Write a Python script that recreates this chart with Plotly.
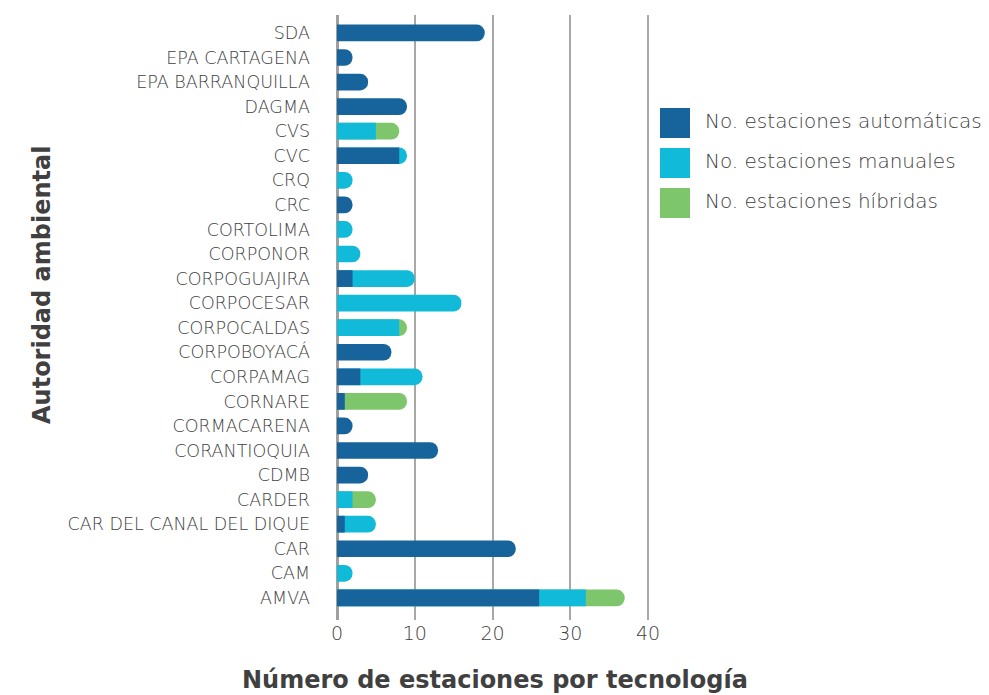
import plotly.graph_objects as go

# Categories listed bottom-to-top (Plotly draws the first category at the bottom)
autoridades = [
    "AMVA", "CAM", "CAR", "CAR DEL CANAL DEL DIQUE", "CARDER", "CDMB",
    "CORANTIOQUIA", "CORMACARENA", "CORNARE", "CORPAMAG", "CORPOBOYACÁ",
    "CORPOCALDAS", "CORPOCESAR", "CORPOGUAJIRA", "CORPONOR", "CORTOLIMA",
    "CRC", "CRQ", "CVC", "CVS", "DAGMA", "EPA BARRANQUILLA", "EPA CARTAGENA", "SDA",
]
automaticas = [26, 0, 23, 1, 0, 4, 13, 2, 1, 3, 7, 0, 0, 2, 0, 0, 2, 0, 8, 0, 9, 4, 2, 19]
manuales    = [6, 2, 0, 4, 2, 0, 0, 0, 0, 8, 0, 8, 16, 8, 3, 2, 0, 2, 1, 5, 0, 0, 0, 0]
hibridas    = [5, 0, 0, 0, 3, 0, 0, 0, 8, 0, 0, 1, 0, 0, 0, 0, 0, 0, 0, 3, 0, 0, 0, 0]

series_names = ["No. estaciones automáticas", "No. estaciones manuales", "No. estaciones híbridas"]
colors = ["#17639b", "#12bad9", "#7ec66c"]

FONT = "DejaVu Sans"
TEXT = "#404040"

# the page body adds an 8px margin, so the figure is 8px smaller each way
# plot area (page px): left 337, right 989, top 15, bottom 620
PW, PH = 652, 605
XMAX = 40.4  # a little past 40 so the last gridline is kept

# each segment is drawn as an overlaid bar from 0 to its cumulative end,
# so every segment gets its own rounded tip
cum_auto = [a if a > 0 else None for a in automaticas]
cum_man = [a + m if m > 0 else None for a, m in zip(automaticas, manuales)]
cum_hib = [a + m + h if h > 0 else None for a, m, h in zip(automaticas, manuales, hibridas)]

fig = go.Figure()

for vals, col, name in [(cum_hib, colors[2], series_names[2]),
                        (cum_man, colors[1], series_names[1]),
                        (cum_auto, colors[0], series_names[0])]:
    fig.add_trace(go.Bar(
        y=autoridades, x=vals, orientation="h", name=name,
        marker=dict(color=col, cornerradius="50%", line=dict(width=0)),
        showlegend=False,
    ))

# legend drawn as its own small panel so the swatches can be large squares
fig.add_trace(go.Scatter(
    x=[0, 0, 0], y=[0, 1, 2], xaxis="x2", yaxis="y2", mode="markers",
    marker=dict(symbol="square", size=30, color=colors, line=dict(width=0)),
    showlegend=False, hoverinfo="skip", cliponaxis=False,
))
fig.add_trace(go.Scatter(
    x=[30, 30, 30], y=[0, 1, 2], xaxis="x2", yaxis="y2", mode="text",
    text=series_names, textposition="middle right",
    textfont=dict(family=FONT, size=20, color=TEXT, weight=200),
    showlegend=False, hoverinfo="skip", cliponaxis=False,
))

fig.update_layout(
    width=981, height=687,
    margin=dict(l=329, r=0, t=7, b=75, autoexpand=False),
    paper_bgcolor="white", plot_bgcolor="white",
    barmode="overlay", bargap=0.32,
    font=dict(family=FONT, color=TEXT),
    xaxis=dict(
        domain=[0, 311 * XMAX / 40 / PW], range=[0, XMAX], dtick=10, automargin=False,
        showgrid=True, gridcolor="#a8a8a8", gridwidth=2,
        zeroline=True, zerolinecolor="#a0a0a0", zerolinewidth=3,
        showline=False, ticks="",
        tickfont=dict(family=FONT, size=19, color=TEXT, weight=200),
        fixedrange=True,
    ),
    yaxis=dict(
        range=[-0.9, 23.73], showgrid=False, zeroline=False, ticks="",
        automargin=False, ticklabelstandoff=26,
        tickfont=dict(family=FONT, size=17.5, color=TEXT, weight=200),
    ),
    xaxis2=dict(domain=[(660 - 337) / PW, 1], range=[-15, 314], visible=False),
    yaxis2=dict(domain=[(620 - 223) / PH, (620 - 103) / PH], range=[2.5, -0.5],
                visible=False),
    annotations=[
        dict(text="Número de estaciones por tecnología", xref="paper", yref="paper",
             x=(495 - 337) / PW, y=(620 - 680) / PH, xanchor="center", yanchor="middle",
             showarrow=False, font=dict(family=FONT, size=24, color=TEXT, weight=700)),
        dict(text="Autoridad ambiental", xref="paper", yref="paper",
             x=(42 - 337) / PW, y=(620 - 285) / PH, xanchor="center", yanchor="middle",
             showarrow=False, textangle=-90,
             font=dict(family=FONT, size=24, color=TEXT, weight=700)),
    ],
)

fig.write_html("out.html")
